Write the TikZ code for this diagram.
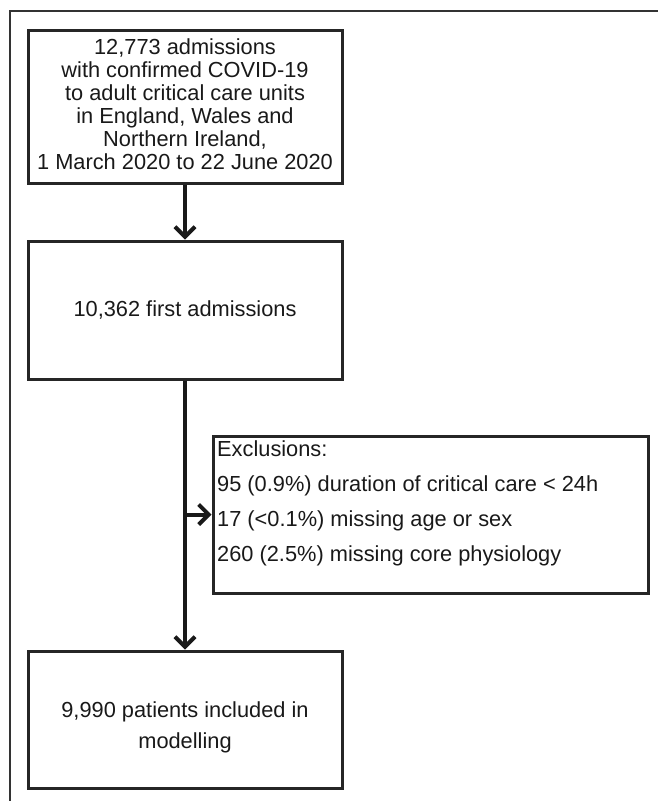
\documentclass[tikz,border=0pt]{standalone}
\usepackage{fontspec}
\setmainfont{Liberation Sans}
\usetikzlibrary{arrows.meta}
\begin{document}
\begin{tikzpicture}[x=1pt,y=-1pt,
  box/.style={draw=black!85,line width=3pt,minimum width=314pt,inner sep=0pt},
  txt/.style={font=\fontsize{21.8}{23}\selectfont,align=center,inner sep=0pt,text=black!90},
  flow/.style={line width=4pt,black!90,-{Straight Barb[length=10pt,width=20pt,line width=0pt 1]}}]
\useasboundingbox (0,0) rectangle (658,801);
\draw[line width=1.3pt,black!80] (10,801) -- (10,11) -- (658,11);
\node[box,minimum height=153pt] (b1) at (185,106.5) {};
\node[txt] (t1) at (185,104) {12,773 admissions\\with confirmed COVID-19\\to adult critical care units\\in England, Wales and\\Northern Ireland,\\1 March 2020 to 22 June 2020};
\node[box,minimum height=138pt] (b2) at (185,310) {};
\node[txt] (t2) at (185,310) {10,362 first admissions};
\node[box,minimum width=435pt,minimum height=157pt] (ex) at (430.5,514.5) {};
\node[txt,align=left,anchor=north west,font=\fontsize{21.8}{35}\selectfont] (tex) at (217,440.5) {Exclusions:\\95 (0.9\%) duration of critical care < 24h\\17 (<0.1\%) missing age or sex\\260 (2.5\%) missing core physiology};
\node[box,minimum height=137pt] (b3) at (185,719.5) {};
\node[txt,font=\fontsize{21.8}{31}\selectfont] (t3) at (185,727.5) {9,990 patients included in\\modelling};
\coordinate (br) at (b2.south |- ex.west);
\draw[flow] (b1.south) -- (b2.north);
\draw[flow] (b2.south) -- (b3.north);
\draw[flow] (br) -- (ex.west);
\end{tikzpicture}
\end{document}
